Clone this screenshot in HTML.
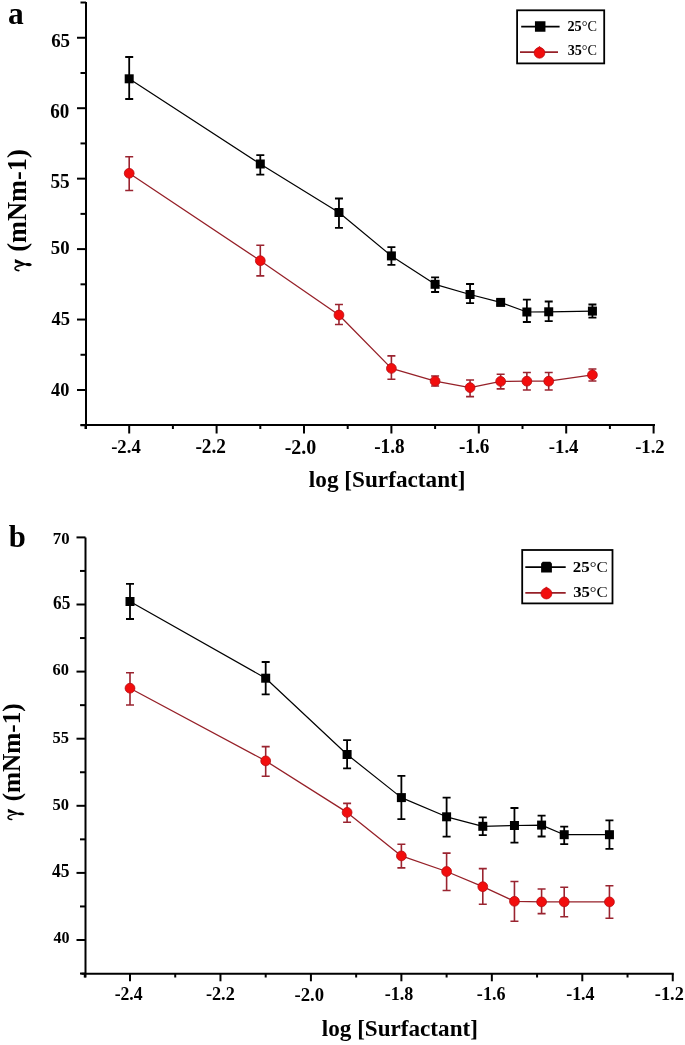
<!DOCTYPE html>
<html><head><meta charset="utf-8"><title>Surface tension vs log [Surfactant]</title>
<style>
html,body{margin:0;padding:0;background:#fff;}
body{width:685px;height:1045px;overflow:hidden;}
svg{display:block;will-change:transform;}
.tl{font-family:"Liberation Serif",serif;font-weight:bold;fill:#000;}
.lg{font-family:"Liberation Serif",serif;fill:#000;}
</style></head>
<body>
<svg width="685" height="1045" viewBox="0 0 685 1045">
<rect width="685" height="1045" fill="#fff"/>
<line x1="86" y1="2" x2="86" y2="429" stroke="#000" stroke-width="2"/>
<line x1="80.5" y1="425" x2="655.0" y2="425" stroke="#000" stroke-width="2"/>
<line x1="80.5" y1="425.23" x2="86" y2="425.23" stroke="#000" stroke-width="2"/>
<line x1="77" y1="390.00" x2="86" y2="390.00" stroke="#000" stroke-width="2"/>
<line x1="80.5" y1="354.77" x2="86" y2="354.77" stroke="#000" stroke-width="2"/>
<line x1="77" y1="319.55" x2="86" y2="319.55" stroke="#000" stroke-width="2"/>
<line x1="80.5" y1="284.32" x2="86" y2="284.32" stroke="#000" stroke-width="2"/>
<line x1="77" y1="249.10" x2="86" y2="249.10" stroke="#000" stroke-width="2"/>
<line x1="80.5" y1="213.88" x2="86" y2="213.88" stroke="#000" stroke-width="2"/>
<line x1="77" y1="178.65" x2="86" y2="178.65" stroke="#000" stroke-width="2"/>
<line x1="80.5" y1="143.43" x2="86" y2="143.43" stroke="#000" stroke-width="2"/>
<line x1="77" y1="108.20" x2="86" y2="108.20" stroke="#000" stroke-width="2"/>
<line x1="80.5" y1="72.98" x2="86" y2="72.98" stroke="#000" stroke-width="2"/>
<line x1="77" y1="37.75" x2="86" y2="37.75" stroke="#000" stroke-width="2"/>
<line x1="80.5" y1="2.52" x2="86" y2="2.52" stroke="#000" stroke-width="2"/>
<line x1="85.50" y1="425" x2="85.50" y2="429" stroke="#000" stroke-width="2"/>
<line x1="129.20" y1="425" x2="129.20" y2="433.5" stroke="#000" stroke-width="2"/>
<line x1="172.90" y1="425" x2="172.90" y2="429" stroke="#000" stroke-width="2"/>
<line x1="216.60" y1="425" x2="216.60" y2="433.5" stroke="#000" stroke-width="2"/>
<line x1="260.30" y1="425" x2="260.30" y2="429" stroke="#000" stroke-width="2"/>
<line x1="304.00" y1="425" x2="304.00" y2="433.5" stroke="#000" stroke-width="2"/>
<line x1="347.70" y1="425" x2="347.70" y2="429" stroke="#000" stroke-width="2"/>
<line x1="391.40" y1="425" x2="391.40" y2="433.5" stroke="#000" stroke-width="2"/>
<line x1="435.10" y1="425" x2="435.10" y2="429" stroke="#000" stroke-width="2"/>
<line x1="478.80" y1="425" x2="478.80" y2="433.5" stroke="#000" stroke-width="2"/>
<line x1="522.50" y1="425" x2="522.50" y2="429" stroke="#000" stroke-width="2"/>
<line x1="566.20" y1="425" x2="566.20" y2="433.5" stroke="#000" stroke-width="2"/>
<line x1="609.90" y1="425" x2="609.90" y2="429" stroke="#000" stroke-width="2"/>
<line x1="653.60" y1="425" x2="653.60" y2="433.5" stroke="#000" stroke-width="2"/>
<text transform="translate(51.14,47.06) scale(1,1.05)" class="tl" style="font-size:18.92px" >65</text>
<text transform="translate(50.33,118.14) scale(1,1.05)" class="tl" style="font-size:19.03px" >60</text>
<text transform="translate(50.43,188.37) scale(1,1.05)" class="tl" style="font-size:19.24px" >55</text>
<text transform="translate(50.75,253.62) scale(1,1.05)" class="tl" style="font-size:18.80px" >50</text>
<text transform="translate(51.52,324.97) scale(1,1.05)" class="tl" style="font-size:18.53px" >45</text>
<text transform="translate(51.03,395.80) scale(1,1.05)" class="tl" style="font-size:18.31px" >40</text>
<text transform="translate(111.15,453.23) scale(1,1.05)" class="tl" style="font-size:18.69px" >-2.4</text>
<text transform="translate(195.42,453.45) scale(1,1.05)" class="tl" style="font-size:19.34px" >-2.2</text>
<text transform="translate(284.70,453.72) scale(1,1.05)" class="tl" style="font-size:20.00px" >-2.0</text>
<text transform="translate(374.13,453.45) scale(1,1.05)" class="tl" style="font-size:19.21px" >-1.8</text>
<text transform="translate(458.93,453.41) scale(1,1.05)" class="tl" style="font-size:19.21px" >-1.6</text>
<text transform="translate(548.74,453.27) scale(1,1.05)" class="tl" style="font-size:18.82px" >-1.4</text>
<text transform="translate(635.15,453.22) scale(1,1.05)" class="tl" style="font-size:18.67px" >-1.2</text>
<text x="308.84" y="487.43" class="tl" style="font-size:23.23px" >log [Surfactant]</text>
<text x="7.99" y="23.84" class="tl" style="font-size:31.50px" >a</text>
<g transform="translate(14.50,271.20) rotate(-90) scale(25.208,25.481) translate(0.012,0.47)"><path d="M0.32,-0.455L0.468,-0.455L0.29,-0.055L0.24,-0.075Z" fill="#000"/><path d="M0.272,-0.075C0.335,-0.02 0.33,0.205 0.24,0.205C0.16,0.205 0.175,0.0 0.25,-0.075Z" fill="#000"/><path d="M0.262,-0.07C0.22,-0.25 0.20,-0.43 0.12,-0.445C0.06,-0.455 0.02,-0.42 0.013,-0.30" fill="none" stroke="#000" stroke-width="0.065" stroke-linecap="round"/></g>
<text transform="translate(26.40,251.79) rotate(-90) scale(0.9668,1)" class="tl" style="font-size:27.30px">(mNm-1)</text>
<polyline points="129.20,78.80 260.30,164.00 338.96,212.50 391.40,255.90 435.10,284.30 470.06,294.50 500.65,302.40 526.87,312.00 548.72,311.80 592.42,311.10" fill="none" stroke="#000" stroke-width="1.2" stroke-linejoin="round"/>
<path d="M129.20,57V99M125.20,57h8M125.20,99h8" stroke="#000" stroke-width="1.8" fill="none"/>
<path d="M260.30,155.1V174.7M256.30,155.1h8M256.30,174.7h8" stroke="#000" stroke-width="1.8" fill="none"/>
<path d="M338.96,198.5V227.8M334.96,198.5h8M334.96,227.8h8" stroke="#000" stroke-width="1.8" fill="none"/>
<path d="M391.40,247.2V264.9M387.40,247.2h8M387.40,264.9h8" stroke="#000" stroke-width="1.8" fill="none"/>
<path d="M435.10,277.4V292M431.10,277.4h8M431.10,292h8" stroke="#000" stroke-width="1.8" fill="none"/>
<path d="M470.06,284V303.2M466.06,284h8M466.06,303.2h8" stroke="#000" stroke-width="1.8" fill="none"/>
<path d="M500.65,300V305M496.65,300h8M496.65,305h8" stroke="#000" stroke-width="1.8" fill="none"/>
<path d="M526.87,299.6V322M522.87,299.6h8M522.87,322h8" stroke="#000" stroke-width="1.8" fill="none"/>
<path d="M548.72,301.5V321.2M544.72,301.5h8M544.72,321.2h8" stroke="#000" stroke-width="1.8" fill="none"/>
<path d="M592.42,304.5V317.7M588.42,304.5h8M588.42,317.7h8" stroke="#000" stroke-width="1.8" fill="none"/>
<rect x="124.70" y="74.30" width="9" height="9" fill="#000"/>
<rect x="255.80" y="159.50" width="9" height="9" fill="#000"/>
<rect x="334.46" y="208.00" width="9" height="9" fill="#000"/>
<rect x="386.90" y="251.40" width="9" height="9" fill="#000"/>
<rect x="430.60" y="279.80" width="9" height="9" fill="#000"/>
<rect x="465.56" y="290.00" width="9" height="9" fill="#000"/>
<rect x="496.15" y="297.90" width="9" height="9" fill="#000"/>
<rect x="522.37" y="307.50" width="9" height="9" fill="#000"/>
<rect x="544.22" y="307.30" width="9" height="9" fill="#000"/>
<rect x="587.92" y="306.60" width="9" height="9" fill="#000"/>
<polyline points="129.20,173.30 260.30,260.70 338.96,315.00 391.40,368.40 435.10,381.10 470.06,387.60 500.65,381.40 526.87,381.20 548.72,381.20 592.42,374.90" fill="none" stroke="#962028" stroke-width="1.3" stroke-linejoin="round"/>
<path d="M129.20,156.8V190.5M125.20,156.8h8M125.20,190.5h8" stroke="#9a2430" stroke-width="1.6" fill="none"/>
<path d="M260.30,245.2V275.9M256.30,245.2h8M256.30,275.9h8" stroke="#9a2430" stroke-width="1.6" fill="none"/>
<path d="M338.96,304.5V324.5M334.96,304.5h8M334.96,324.5h8" stroke="#9a2430" stroke-width="1.6" fill="none"/>
<path d="M391.40,355.9V379.3M387.40,355.9h8M387.40,379.3h8" stroke="#9a2430" stroke-width="1.6" fill="none"/>
<path d="M435.10,376V386M431.10,376h8M431.10,386h8" stroke="#9a2430" stroke-width="1.6" fill="none"/>
<path d="M470.06,380V396.6M466.06,380h8M466.06,396.6h8" stroke="#9a2430" stroke-width="1.6" fill="none"/>
<path d="M500.65,374.2V388.9M496.65,374.2h8M496.65,388.9h8" stroke="#9a2430" stroke-width="1.6" fill="none"/>
<path d="M526.87,372.5V390M522.87,372.5h8M522.87,390h8" stroke="#9a2430" stroke-width="1.6" fill="none"/>
<path d="M548.72,372.5V390M544.72,372.5h8M544.72,390h8" stroke="#9a2430" stroke-width="1.6" fill="none"/>
<path d="M592.42,369V381M588.42,369h8M588.42,381h8" stroke="#9a2430" stroke-width="1.6" fill="none"/>
<circle cx="129.20" cy="173.30" r="4.9" fill="#f20d0d" stroke="#b80d12" stroke-width="0.8"/>
<circle cx="260.30" cy="260.70" r="4.9" fill="#f20d0d" stroke="#b80d12" stroke-width="0.8"/>
<circle cx="338.96" cy="315.00" r="4.9" fill="#f20d0d" stroke="#b80d12" stroke-width="0.8"/>
<circle cx="391.40" cy="368.40" r="4.9" fill="#f20d0d" stroke="#b80d12" stroke-width="0.8"/>
<circle cx="435.10" cy="381.10" r="4.9" fill="#f20d0d" stroke="#b80d12" stroke-width="0.8"/>
<circle cx="470.06" cy="387.60" r="4.9" fill="#f20d0d" stroke="#b80d12" stroke-width="0.8"/>
<circle cx="500.65" cy="381.40" r="4.9" fill="#f20d0d" stroke="#b80d12" stroke-width="0.8"/>
<circle cx="526.87" cy="381.20" r="4.9" fill="#f20d0d" stroke="#b80d12" stroke-width="0.8"/>
<circle cx="548.72" cy="381.20" r="4.9" fill="#f20d0d" stroke="#b80d12" stroke-width="0.8"/>
<circle cx="592.42" cy="374.90" r="4.9" fill="#f20d0d" stroke="#b80d12" stroke-width="0.8"/>
<rect x="517.1" y="10.3" width="87.1" height="53.1" fill="none" stroke="#000" stroke-width="1.8"/>
<line x1="521.2" y1="26.6" x2="559.6" y2="26.6" stroke="#000" stroke-width="1.8"/>
<path d="M534.95,31.85V21.36L534.96,21.35H545.44L545.45,21.36V31.85Z" fill="#000"/>
<line x1="520.0" y1="52.2" x2="558.0" y2="52.2" stroke="#962028" stroke-width="1.8"/>
<circle cx="539.50" cy="52.80" r="5.35" fill="#f20d0d" stroke="#c00a10" stroke-width="0.8"/>
<path d="M537.30,48.65L539.50,46.25L541.70,48.65Z" fill="#f20d0d" stroke="#c00a10" stroke-width="0.6"/>
<text transform="translate(567.43,30.76) scale(1.0029,1)" class="lg" style="font-size:14.22px"><tspan font-weight="bold">25</tspan>°C</text>
<text transform="translate(567.63,54.56) scale(1.0170,1)" class="lg" style="font-size:13.93px"><tspan font-weight="bold">35</tspan>°C</text>
<line x1="85.5" y1="537.4" x2="85.5" y2="977.5" stroke="#000" stroke-width="2"/>
<line x1="81.5" y1="973.8" x2="673.8" y2="973.8" stroke="#000" stroke-width="2"/>
<line x1="80.0" y1="973.55" x2="85.5" y2="973.55" stroke="#000" stroke-width="2"/>
<line x1="76.5" y1="940.00" x2="85.5" y2="940.00" stroke="#000" stroke-width="2"/>
<line x1="80.0" y1="906.45" x2="85.5" y2="906.45" stroke="#000" stroke-width="2"/>
<line x1="76.5" y1="872.90" x2="85.5" y2="872.90" stroke="#000" stroke-width="2"/>
<line x1="80.0" y1="839.35" x2="85.5" y2="839.35" stroke="#000" stroke-width="2"/>
<line x1="76.5" y1="805.80" x2="85.5" y2="805.80" stroke="#000" stroke-width="2"/>
<line x1="80.0" y1="772.25" x2="85.5" y2="772.25" stroke="#000" stroke-width="2"/>
<line x1="76.5" y1="738.70" x2="85.5" y2="738.70" stroke="#000" stroke-width="2"/>
<line x1="80.0" y1="705.15" x2="85.5" y2="705.15" stroke="#000" stroke-width="2"/>
<line x1="76.5" y1="671.60" x2="85.5" y2="671.60" stroke="#000" stroke-width="2"/>
<line x1="80.0" y1="638.05" x2="85.5" y2="638.05" stroke="#000" stroke-width="2"/>
<line x1="76.5" y1="604.50" x2="85.5" y2="604.50" stroke="#000" stroke-width="2"/>
<line x1="80.0" y1="570.95" x2="85.5" y2="570.95" stroke="#000" stroke-width="2"/>
<line x1="76.5" y1="537.40" x2="85.5" y2="537.40" stroke="#000" stroke-width="2"/>
<line x1="84.77" y1="973.8" x2="84.77" y2="977.5" stroke="#000" stroke-width="2"/>
<line x1="130.00" y1="973.8" x2="130.00" y2="981.3" stroke="#000" stroke-width="2"/>
<line x1="175.23" y1="973.8" x2="175.23" y2="977.5" stroke="#000" stroke-width="2"/>
<line x1="220.46" y1="973.8" x2="220.46" y2="981.3" stroke="#000" stroke-width="2"/>
<line x1="265.69" y1="973.8" x2="265.69" y2="977.5" stroke="#000" stroke-width="2"/>
<line x1="310.92" y1="973.8" x2="310.92" y2="981.3" stroke="#000" stroke-width="2"/>
<line x1="356.15" y1="973.8" x2="356.15" y2="977.5" stroke="#000" stroke-width="2"/>
<line x1="401.38" y1="973.8" x2="401.38" y2="981.3" stroke="#000" stroke-width="2"/>
<line x1="446.61" y1="973.8" x2="446.61" y2="977.5" stroke="#000" stroke-width="2"/>
<line x1="491.84" y1="973.8" x2="491.84" y2="981.3" stroke="#000" stroke-width="2"/>
<line x1="537.07" y1="973.8" x2="537.07" y2="977.5" stroke="#000" stroke-width="2"/>
<line x1="582.30" y1="973.8" x2="582.30" y2="981.3" stroke="#000" stroke-width="2"/>
<line x1="627.53" y1="973.8" x2="627.53" y2="977.5" stroke="#000" stroke-width="2"/>
<line x1="672.76" y1="973.8" x2="672.76" y2="981.3" stroke="#000" stroke-width="2"/>
<text transform="translate(52.78,543.73) scale(1,1.05)" class="tl" style="font-size:16.80px" >70</text>
<text transform="translate(53.09,608.71) scale(1,1.05)" class="tl" style="font-size:17.31px" >65</text>
<text transform="translate(52.52,674.60) scale(1,1.05)" class="tl" style="font-size:16.43px" >60</text>
<text transform="translate(52.44,743.41) scale(1,1.05)" class="tl" style="font-size:16.43px" >55</text>
<text transform="translate(52.44,809.63) scale(1,1.05)" class="tl" style="font-size:16.52px" >50</text>
<text transform="translate(51.94,876.76) scale(1,1.05)" class="tl" style="font-size:17.47px" >45</text>
<text transform="translate(53.46,943.18) scale(1,1.05)" class="tl" style="font-size:16.08px" >40</text>
<text transform="translate(114.68,1000.13) scale(1,1.05)" class="tl" style="font-size:17.65px" >-2.4</text>
<text transform="translate(205.96,1000.31) scale(1,1.05)" class="tl" style="font-size:18.21px" >-2.2</text>
<text transform="translate(294.55,1000.52) scale(1,1.05)" class="tl" style="font-size:18.68px" >-2.0</text>
<text transform="translate(384.67,1000.32) scale(1,1.05)" class="tl" style="font-size:18.09px" >-1.8</text>
<text transform="translate(476.87,1000.28) scale(1,1.05)" class="tl" style="font-size:18.09px" >-1.6</text>
<text transform="translate(566.17,1000.24) scale(1,1.05)" class="tl" style="font-size:17.97px" >-1.4</text>
<text transform="translate(654.86,1000.34) scale(1,1.05)" class="tl" style="font-size:18.27px" >-1.2</text>
<text x="321.84" y="1036.21" class="tl" style="font-size:23.14px" >log [Surfactant]</text>
<text x="8.71" y="546.61" class="tl" style="font-size:30.70px" >b</text>
<g transform="translate(7.50,820.00) rotate(-90) scale(23.333,24.889) translate(0.012,0.47)"><path d="M0.32,-0.455L0.468,-0.455L0.29,-0.055L0.24,-0.075Z" fill="#000"/><path d="M0.272,-0.075C0.335,-0.02 0.33,0.205 0.24,0.205C0.16,0.205 0.175,0.0 0.25,-0.075Z" fill="#000"/><path d="M0.262,-0.07C0.22,-0.25 0.20,-0.43 0.12,-0.445C0.06,-0.455 0.02,-0.42 0.013,-0.30" fill="none" stroke="#000" stroke-width="0.065" stroke-linecap="round"/></g>
<text transform="translate(19.60,801.34) rotate(-90) scale(0.9782,1)" class="tl" style="font-size:25.80px">(mNm-1)</text>
<polyline points="130.00,601.50 265.69,678.20 347.10,754.50 401.38,797.60 446.61,816.80 482.79,826.30 514.45,825.50 541.59,825.10 564.21,834.70 609.44,834.70" fill="none" stroke="#000" stroke-width="1.2" stroke-linejoin="round"/>
<path d="M130.00,583.8V619M126.00,583.8h8M126.00,619h8" stroke="#000" stroke-width="1.8" fill="none"/>
<path d="M265.69,662V694.4M261.69,662h8M261.69,694.4h8" stroke="#000" stroke-width="1.8" fill="none"/>
<path d="M347.10,740.1V768.3M343.10,740.1h8M343.10,768.3h8" stroke="#000" stroke-width="1.8" fill="none"/>
<path d="M401.38,775.8V819.1M397.38,775.8h8M397.38,819.1h8" stroke="#000" stroke-width="1.8" fill="none"/>
<path d="M446.61,797.7V836.6M442.61,797.7h8M442.61,836.6h8" stroke="#000" stroke-width="1.8" fill="none"/>
<path d="M482.79,817.4V835.1M478.79,817.4h8M478.79,835.1h8" stroke="#000" stroke-width="1.8" fill="none"/>
<path d="M514.45,808V842.6M510.45,808h8M510.45,842.6h8" stroke="#000" stroke-width="1.8" fill="none"/>
<path d="M541.59,815.7V836.5M537.59,815.7h8M537.59,836.5h8" stroke="#000" stroke-width="1.8" fill="none"/>
<path d="M564.21,826.7V844.2M560.21,826.7h8M560.21,844.2h8" stroke="#000" stroke-width="1.8" fill="none"/>
<path d="M609.44,820.4V848.9M605.44,820.4h8M605.44,848.9h8" stroke="#000" stroke-width="1.8" fill="none"/>
<rect x="125.50" y="597.00" width="9" height="9" fill="#000"/>
<rect x="261.19" y="673.70" width="9" height="9" fill="#000"/>
<rect x="342.60" y="750.00" width="9" height="9" fill="#000"/>
<rect x="396.88" y="793.10" width="9" height="9" fill="#000"/>
<rect x="442.11" y="812.30" width="9" height="9" fill="#000"/>
<rect x="478.29" y="821.80" width="9" height="9" fill="#000"/>
<rect x="509.95" y="821.00" width="9" height="9" fill="#000"/>
<rect x="537.09" y="820.60" width="9" height="9" fill="#000"/>
<rect x="559.71" y="830.20" width="9" height="9" fill="#000"/>
<rect x="604.94" y="830.20" width="9" height="9" fill="#000"/>
<polyline points="130.00,688.20 265.69,760.90 347.10,812.40 401.38,855.90 446.61,871.50 482.79,886.70 514.45,901.30 541.59,901.90 564.21,901.90 609.44,901.90" fill="none" stroke="#962028" stroke-width="1.3" stroke-linejoin="round"/>
<path d="M130.00,672.7V705M126.00,672.7h8M126.00,705h8" stroke="#9a2430" stroke-width="1.6" fill="none"/>
<path d="M265.69,746.6V776.2M261.69,746.6h8M261.69,776.2h8" stroke="#9a2430" stroke-width="1.6" fill="none"/>
<path d="M347.10,803.4V822.3M343.10,803.4h8M343.10,822.3h8" stroke="#9a2430" stroke-width="1.6" fill="none"/>
<path d="M401.38,844.2V867.9M397.38,844.2h8M397.38,867.9h8" stroke="#9a2430" stroke-width="1.6" fill="none"/>
<path d="M446.61,853.1V890.5M442.61,853.1h8M442.61,890.5h8" stroke="#9a2430" stroke-width="1.6" fill="none"/>
<path d="M482.79,868.6V904.2M478.79,868.6h8M478.79,904.2h8" stroke="#9a2430" stroke-width="1.6" fill="none"/>
<path d="M514.45,881.5V921.2M510.45,881.5h8M510.45,921.2h8" stroke="#9a2430" stroke-width="1.6" fill="none"/>
<path d="M541.59,889V913.6M537.59,889h8M537.59,913.6h8" stroke="#9a2430" stroke-width="1.6" fill="none"/>
<path d="M564.21,887.3V916.8M560.21,887.3h8M560.21,916.8h8" stroke="#9a2430" stroke-width="1.6" fill="none"/>
<path d="M609.44,885.8V918.2M605.44,885.8h8M605.44,918.2h8" stroke="#9a2430" stroke-width="1.6" fill="none"/>
<circle cx="130.00" cy="688.20" r="4.9" fill="#f20d0d" stroke="#b80d12" stroke-width="0.8"/>
<circle cx="265.69" cy="760.90" r="4.9" fill="#f20d0d" stroke="#b80d12" stroke-width="0.8"/>
<circle cx="347.10" cy="812.40" r="4.9" fill="#f20d0d" stroke="#b80d12" stroke-width="0.8"/>
<circle cx="401.38" cy="855.90" r="4.9" fill="#f20d0d" stroke="#b80d12" stroke-width="0.8"/>
<circle cx="446.61" cy="871.50" r="4.9" fill="#f20d0d" stroke="#b80d12" stroke-width="0.8"/>
<circle cx="482.79" cy="886.70" r="4.9" fill="#f20d0d" stroke="#b80d12" stroke-width="0.8"/>
<circle cx="514.45" cy="901.30" r="4.9" fill="#f20d0d" stroke="#b80d12" stroke-width="0.8"/>
<circle cx="541.59" cy="901.90" r="4.9" fill="#f20d0d" stroke="#b80d12" stroke-width="0.8"/>
<circle cx="564.21" cy="901.90" r="4.9" fill="#f20d0d" stroke="#b80d12" stroke-width="0.8"/>
<circle cx="609.44" cy="901.90" r="4.9" fill="#f20d0d" stroke="#b80d12" stroke-width="0.8"/>
<rect x="522.2" y="550.0" width="90.3" height="53.4" fill="none" stroke="#000" stroke-width="1.8"/>
<line x1="525.3" y1="567.2" x2="565.7" y2="567.2" stroke="#000" stroke-width="1.8"/>
<path d="M541.10,572.60V563.40L542.70,561.80H550.30L551.90,563.40V572.60Z" fill="#000"/>
<line x1="525.3" y1="592.9" x2="565.7" y2="592.9" stroke="#962028" stroke-width="1.8"/>
<circle cx="546.40" cy="593.50" r="5.45" fill="#f20d0d" stroke="#c00a10" stroke-width="0.8"/>
<path d="M544.20,589.25L546.40,586.85L548.60,589.25Z" fill="#f20d0d" stroke="#c00a10" stroke-width="0.6"/>
<text transform="translate(572.82,572.46) scale(1.1763,1)" class="lg" style="font-size:14.37px"><tspan font-weight="bold">25</tspan>°C</text>
<text transform="translate(573.13,597.05) scale(1.1538,1)" class="lg" style="font-size:14.52px"><tspan font-weight="bold">35</tspan>°C</text>
</svg>
</body></html>
